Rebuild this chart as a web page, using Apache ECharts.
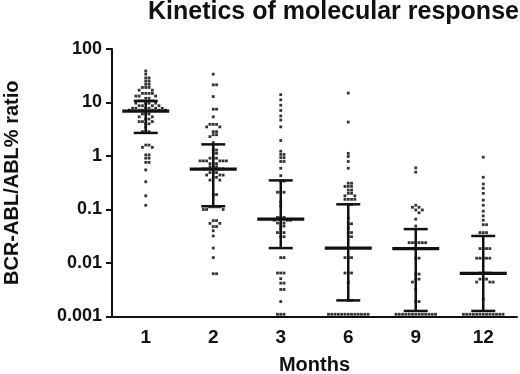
<!DOCTYPE html>
<html><head><meta charset="utf-8">
<script src="https://cdn.jsdelivr.net/npm/echarts@6/dist/echarts.min.js"></script>
<style>html,body{margin:0;padding:0;background:#fff}#c{width:520px;height:374px}</style>
</head><body><div id="c"></div>
<script>
const categories = ['1','2','3','6','9','12'];
const yTicks = [0.001, 0.01, 0.1, 1, 10, 100];
const yTickLabels = ['0.001','0.01','0.1','1','10','100'];
const medians = [6.9, 0.57, 0.066, 0.019, 0.0186, 0.0064];
const upperBars = [10.7, 1.65, 0.35, 0.125, 0.043, 0.032];
const lowerBars = [2.7, 0.115, 0.019, 0.002, 0.00127, 0.00127];

const m1 = [38.9, 33.9, 28.8, 28.8, 25.1, 25.1, 21.9, 21.9, 19.1, 19.1, 19.1, 17.0, 17.0, 14.8, 14.8, 14.8, 14.8, 13.2, 13.2, 13.2, 12.0, 12.0, 10.7, 10.7, 10.7, 9.7, 9.7, 9.7, 9.7, 8.7, 8.7, 8.7, 8.7, 7.8, 7.8, 7.8, 7.8, 7.8, 7.8, 7.2, 7.2, 7.2, 7.2, 7.2, 7.2, 6.1, 6.1, 6.1, 5.4, 5.4, 4.9, 4.9, 4.4, 4.4, 4.4, 4.0, 4.0, 3.5, 2.85, 2.85, 2.85, 1.6, 1.6, 1.45, 1.45, 1.05, 1.05, 0.91, 0.91, 0.76, 0.76, 0.55, 0.33, 0.18, 0.12];
const m2 = [33.9, 21.4, 21.4, 12.9, 7.5, 7.5, 5.4, 3.9, 3.9, 3.9, 3.5, 3.5, 2.85, 2.85, 2.5, 2.5, 2.3, 1.78, 1.29, 1.29, 1.12, 1.12, 0.91, 0.91, 0.91, 0.81, 0.81, 0.81, 0.81, 0.81, 0.81, 0.72, 0.72, 0.72, 0.63, 0.63, 0.63, 0.575, 0.575, 0.575, 0.575, 0.49, 0.49, 0.49, 0.44, 0.44, 0.44, 0.40, 0.40, 0.355, 0.355, 0.19, 0.19, 0.112, 0.112, 0.112, 0.112, 0.10, 0.10, 0.10, 0.062, 0.062, 0.055, 0.055, 0.048, 0.048, 0.040, 0.032, 0.019, 0.0126, 0.0063, 0.0063];
const m3 = [14, 11.2, 8.9, 7.1, 5.6, 4.7, 3.5, 1.95, 1.23, 1.07, 1.07, 0.93, 0.93, 0.79, 0.79, 0.59, 0.43, 0.34, 0.34, 0.21, 0.21, 0.21, 0.14, 0.117, 0.071, 0.071, 0.071, 0.063, 0.063, 0.063, 0.056, 0.056, 0.056, 0.049, 0.049, 0.043, 0.037, 0.037, 0.037, 0.031, 0.031, 0.0126, 0.0126, 0.0065, 0.0065, 0.0065, 0.0051, 0.0042, 0.0042, 0.0032, 0.0032, 0.0019, 0.0011, 0.0011, 0.0011];
const m6 = [15, 4.3, 1.12, 0.98, 0.79, 0.59, 0.31, 0.31, 0.27, 0.27, 0.27, 0.23, 0.23, 0.20, 0.20, 0.18, 0.18, 0.155, 0.155, 0.155, 0.155, 0.125, 0.125, 0.069, 0.054, 0.054, 0.045, 0.037, 0.037, 0.031, 0.031, 0.0126, 0.0126, 0.0126, 0.0065, 0.0065, 0.0065, 0.0043, 0.002, 0.002, 0.0011, 0.0011, 0.0011, 0.0011, 0.0011, 0.0011, 0.0011, 0.0011, 0.0011, 0.0011, 0.0011, 0.0011, 0.0011];
const m9 = [0.6, 0.5, 0.12, 0.11, 0.11, 0.098, 0.098, 0.087, 0.066, 0.049, 0.024, 0.024, 0.024, 0.024, 0.024, 0.024, 0.0123, 0.0123, 0.0062, 0.0062, 0.005, 0.005, 0.0044, 0.0032, 0.0019, 0.0019, 0.0011, 0.0011, 0.0011, 0.0011, 0.0011, 0.0011, 0.0011, 0.0011, 0.0011, 0.0011, 0.0011, 0.0011, 0.0011];
const m12 = [0.95, 0.4, 0.3, 0.25, 0.2, 0.15, 0.12, 0.093, 0.076, 0.063, 0.052, 0.052, 0.037, 0.037, 0.037, 0.0186, 0.0186, 0.0186, 0.0186, 0.0123, 0.0123, 0.0123, 0.0123, 0.0123, 0.0065, 0.0065, 0.0065, 0.0065, 0.005, 0.005, 0.005, 0.0044, 0.0044, 0.0044, 0.0021, 0.0011, 0.0011, 0.0011, 0.0011, 0.0011, 0.0011, 0.0011, 0.0011, 0.0011, 0.0011, 0.0011, 0.0011, 0.0011];
const groups = [m1, m2, m3, m6, m9, m12];

const GRID = {left: 112, right: 3, top: 49, bottom: 57.5, containLabel: false, outerBoundsMode: 'none'};
const H = 374;
const pxPerDecade = (H - GRID.top - GRID.bottom) / 5;

// beeswarm offsets (computed, not stored)
function swarm(vals) {
  const pts = vals.map((v, i) => ({i, v, y: -Math.log10(v) * pxPerDecade}));
  pts.sort((a, b) => b.v - a.v);
  const placed = [];
  const s = 3.3, dmin = 3.0;
  const out = new Array(vals.length);
  pts.forEach(p => {
    let k = 0, dx = 0;
    while (true) {
      dx = k === 0 ? 0 : (k % 2 === 1 ? 1 : -1) * Math.ceil(k / 2) * s;
      const hit = placed.some(q => Math.abs(q.y - p.y) < dmin && Math.abs(q.dx - dx) < s - 0.1);
      if (!hit) break;
      k++;
    }
    placed.push({y: p.y, dx});
    out[p.i] = dx;
  });
  return out;
}

const dots = [];
groups.forEach((g, gi) => {
  const offs = swarm(g);
  g.forEach((v, j) => dots.push({value: [gi, v], symbolOffset: [offs[j], 0]}));
});
const barData = categories.map((c, i) => [i, medians[i], lowerBars[i], upperBars[i]]);

const FONT = '"Liberation Sans", Arial, sans-serif';
const chart = echarts.init(document.getElementById('c'), null, {renderer: 'canvas'});
chart.setOption({
  backgroundColor: '#fff',
  animation: false,
  title: {
    text: 'Kinetics of molecular response', left: 148, top: 0, padding: 0,
    textStyle: {fontFamily: FONT, fontWeight: 'bold', fontSize: 25, color: '#111'}
  },
  grid: GRID,
  xAxis: {
    type: 'category', data: categories, boundaryGap: true,
    name: 'Months', nameLocation: 'middle', nameGap: 39,
    nameTextStyle: {fontFamily: FONT, fontWeight: 'bold', fontSize: 20, color: '#111'},
    axisLine: {lineStyle: {color: '#111', width: 2}},
    axisTick: {alignWithLabel: true, length: 6, lineStyle: {color: '#111', width: 2}},
    axisLabel: {fontFamily: FONT, fontWeight: 'bold', fontSize: 19, color: '#111', margin: 12},
    splitLine: {show: false}
  },
  yAxis: {
    type: 'log', logBase: 10, min: 0.001, max: 100,
    name: 'BCR-ABL/ABL% ratio', nameLocation: 'middle', nameGap: 90,
    nameTextStyle: {fontFamily: FONT, fontWeight: 'bold', fontSize: 20, color: '#111'},
    axisLine: {show: true, lineStyle: {color: '#111', width: 2}},
    axisTick: {show: true, length: 6, lineStyle: {color: '#111', width: 2}},
    axisLabel: {
      fontFamily: FONT, fontWeight: 'bold', fontSize: 18, color: '#111', margin: 10,
      formatter: v => { const i = yTicks.findIndex(t => Math.abs(Math.log10(t) - Math.log10(v)) < 1e-6); return i >= 0 ? yTickLabels[i] : ''; }
    },
    splitLine: {show: false},
    minorTick: {show: false}
  },
  series: [
    {
      type: 'scatter', data: dots, symbol: 'rect', symbolSize: 2.8,
      itemStyle: {color: '#000'}, z: 2, silent: true
    },
    {
      type: 'custom', data: barData, z: 3, silent: true,
      encode: {x: 0, y: [1, 2, 3]},
      renderItem: (params, api) => {
        const x = api.value(0);
        const pm = api.coord([x, api.value(1)]);
        const pl = api.coord([x, api.value(2)]);
        const pu = api.coord([x, api.value(3)]);
        const mw = 23.5, cw = 12;
        const st = w => ({stroke: '#111', lineWidth: w});
        return {type: 'group', children: [
          {type: 'line', shape: {x1: pm[0], y1: pu[1], x2: pm[0], y2: pl[1]}, style: st(2.5)},
          {type: 'line', shape: {x1: pm[0] - cw, y1: pu[1], x2: pm[0] + cw, y2: pu[1]}, style: st(2.5)},
          {type: 'line', shape: {x1: pm[0] - cw, y1: pl[1], x2: pm[0] + cw, y2: pl[1]}, style: st(2.5)},
          {type: 'line', shape: {x1: pm[0] - mw, y1: pm[1], x2: pm[0] + mw, y2: pm[1]}, style: st(3.2)}
        ]};
      }
    }
  ]
});
</script></body></html>
